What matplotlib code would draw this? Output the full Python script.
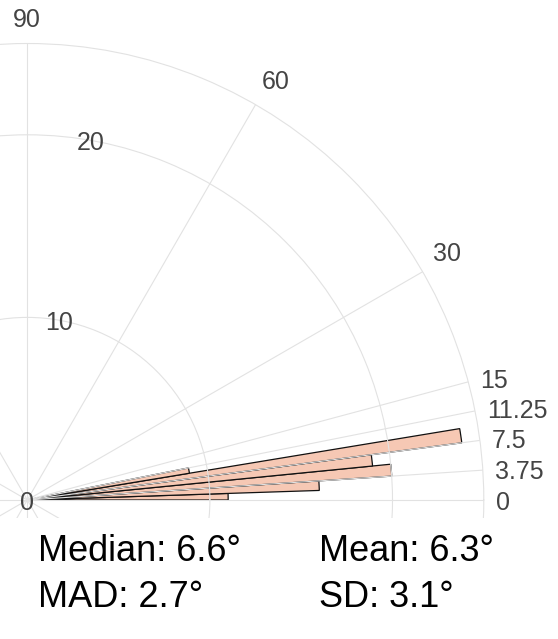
import numpy as np
import matplotlib
matplotlib.use('Agg')
import matplotlib.pyplot as plt
from matplotlib.patches import Rectangle

plt.rcParams['font.family'] = ['Liberation Sans', 'DejaVu Sans']

# angle histogram, bins of 1.875 deg
bin_starts = [0, 1.875, 3.75, 5.625, 7.5, 9.375]
bin_width = 1.875
counts = [11, 16, 20, 19, 24, 9]

theta_ticks = [0, 3.75, 7.5, 11.25, 15, 30, 60, 90]
theta_labels = ['0', '3.75', '7.5', '11.25', '15', '30', '60', '90']
extra_spokes = [120, 150, 180, 210, 240, 270, 300, 330]
r_ticks = [0, 10, 20]
r_max = 25
r_label_angle = 80

stats_left = ['Median: 6.6°', 'MAD: 2.7°']
stats_right = ['Mean: 6.3°', 'SD: 3.1°']

W, H = 558, 639
fig = plt.figure(figsize=(W / 100, H / 100), dpi=100)

# pole sits near the lower left corner, most of the circle is off the canvas
cx, cy, R = 27.3, H - 500, 456.5
ax = fig.add_axes([(cx - R) / W, (cy - R) / H, 2 * R / W, 2 * R / H],
                  projection='polar')

grid_col = '#e2e2e2'
ax.bar(np.radians(bin_starts), counts, width=np.radians(bin_width), align='edge',
       color='#f6c8b4', edgecolor='#111111', linewidth=0.9, zorder=1)

ax.set_ylim(0, r_max)
ax.set_xticks(np.radians(theta_ticks + extra_spokes))
ax.set_xticklabels([])
ax.set_yticks(r_ticks[1:])
ax.set_yticklabels([])
ax.tick_params(length=0)
ax.grid(True, color=grid_col, linewidth=0.8)
ax.spines['polar'].set_color(grid_col)
ax.spines['polar'].set_linewidth(0.8)
ax.set_axisbelow(False)

for t, lab in zip(theta_ticks, theta_labels):
    a = np.radians(t)
    ha = 'center' if abs(np.cos(a)) < 0.05 else 'left'
    va = 'center_baseline' if np.sin(a) < 0.3 else 'bottom'
    ax.annotate(lab, xy=(a, r_max), xytext=(8.6 * np.cos(a), 8.6 * np.sin(a)),
                textcoords='offset points', ha=ha, va=va, fontsize=18,
                color='#444444', annotation_clip=False)

for r in r_ticks:
    ax.text(np.radians(r_label_angle), r, str(r), ha='center', va='center_baseline',
            fontsize=18, color='#444444')

# the chart area ends just under the pole; the stats block is plain white
fig.add_artist(Rectangle((0, 0), 1, 1 - 518 / H, transform=fig.transFigure,
                         facecolor='white', edgecolor='none', zorder=1))

for i, (a, b) in enumerate(zip(stats_left, stats_right)):
    y = 1 - (561 + 46 * i) / H
    fig.text(38 / W, y, a, fontsize=26, va='baseline', color='black')
    fig.text(319 / W, y, b, fontsize=26, va='baseline', color='black')

fig.savefig('out.png', dpi=100)
